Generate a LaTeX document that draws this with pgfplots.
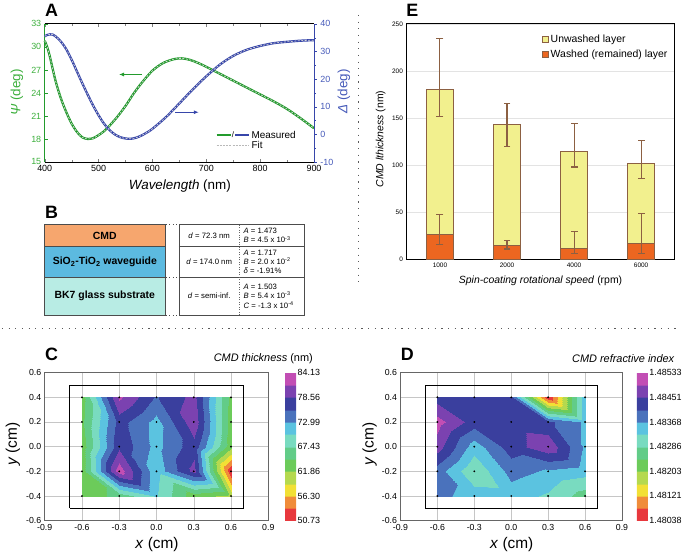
\documentclass[border=0pt]{standalone}
\usepackage{pgfplots}
\pgfplotsset{compat=1.18}
\usepackage{pgfplotstable}
\usepackage{fontspec}
\setmainfont{Liberation Sans}
\usetikzlibrary{arrows.meta}
\definecolor{psig}{RGB}{35,155,45}
\definecolor{psil}{RGB}{60,175,60}
\definecolor{delb}{RGB}{55,70,170}
\definecolor{dell}{RGB}{70,90,185}
\definecolor{barY}{RGB}{242,240,142}
\definecolor{barO}{RGB}{236,102,32}
\definecolor{barE}{RGB}{140,96,66}
\definecolor{cmdO}{RGB}{246,166,110}
\definecolor{sioB}{RGB}{92,186,224}
\definecolor{bkC}{RGB}{184,236,228}
\definecolor{fitc}{RGB}{215,215,215}
\pgfplotsset{colormap={cmdmap}{
 rgb255(0pt)=(232,56,61) rgb255(99pt)=(232,56,61)
 rgb255(100pt)=(240,140,58) rgb255(199pt)=(240,140,58)
 rgb255(200pt)=(242,224,53) rgb255(299pt)=(242,224,53)
 rgb255(300pt)=(181,217,79) rgb255(399pt)=(181,217,79)
 rgb255(400pt)=(108,203,90) rgb255(499pt)=(108,203,90)
 rgb255(500pt)=(98,204,136) rgb255(599pt)=(98,204,136)
 rgb255(600pt)=(121,219,192) rgb255(699pt)=(121,219,192)
 rgb255(700pt)=(91,195,224) rgb255(799pt)=(91,195,224)
 rgb255(800pt)=(74,114,188) rgb255(899pt)=(74,114,188)
 rgb255(900pt)=(58,63,158) rgb255(999pt)=(58,63,158)
 rgb255(1000pt)=(123,66,176) rgb255(1099pt)=(123,66,176)
 rgb255(1100pt)=(194,78,180) rgb255(1200pt)=(194,78,180)}}

\pgfplotstableread[row sep=\\]{
x y z\\
-0.6 -0.4 63\\ -0.3 -0.4 65.5\\ 0 -0.4 70.5\\ 0.3 -0.4 63\\ 0.6 -0.4 61\\
-0.6 -0.2 63\\ -0.3 -0.2 83\\ 0 -0.2 71\\ 0.3 -0.2 79.5\\ 0.6 -0.2 51\\
-0.6 0 63\\ -0.3 0 78\\ 0 0 72\\ 0.3 0 77.5\\ 0.6 0 62.5\\
-0.6 0.2 64\\ -0.3 0.2 77\\ 0 0.2 72\\ 0.3 0.2 80.5\\ 0.6 0.2 63\\
-0.6 0.4 63.5\\ -0.3 0.4 82\\ 0 0.4 75.5\\ 0.3 0.4 79.5\\ 0.6 0.4 63.5\\
}\thickdata

\pgfplotstableread[row sep=\\]{
x y z\\
-0.6 -0.4 1.48380\\ -0.3 -0.4 1.48350\\ 0 -0.4 1.48345\\ 0.3 -0.4 1.48320\\ 0.6 -0.4 1.48265\\
-0.6 -0.2 1.48390\\ -0.3 -0.2 1.48290\\ 0 -0.2 1.48385\\ 0.3 -0.2 1.48362\\ 0.6 -0.2 1.48345\\
-0.6 0 1.48470\\ -0.3 0 1.48345\\ 0 0 1.48430\\ 0.3 0 1.48480\\ 0.6 0 1.48360\\
-0.6 0.2 1.48510\\ -0.3 0.2 1.48430\\ 0 0.2 1.48430\\ 0.3 0.2 1.48420\\ 0.6 0.2 1.48360\\
-0.6 0.4 1.48430\\ -0.3 0.4 1.48430\\ 0 0.4 1.48420\\ 0.3 0.4 1.48040\\ 0.6 0.4 1.48355\\
}\rindata

\begin{document}
\begin{tikzpicture}
\path (0,0) rectangle (685pt,557pt);

% ---------------- Panel A ----------------
\begin{axis}[at={(45pt,394pt)}, anchor=south west, scale only axis,
  width=271pt, height=139pt,
  xmin=400, xmax=900, ymin=15, ymax=33,
  axis x line*=box, axis y line*=left,
  xtick={400,500,600,700,800,900}, minor x tick num=1,
  ytick={15,18,21,24,27,30,33},
  tick align=inside, major tick length=3pt, minor tick length=2pt,
  ticklabel style={font=\fontsize{9}{10}\selectfont},
  /pgf/number format/assume math mode=true,
  x axis line style={line width=0.8pt},
  y axis line style={psig, line width=0.8pt},
  ytick style={psig}, yticklabel style={text=psil},
  clip=false]
\addplot[psig, line width=2.3pt, smooth] coordinates {
(400,30.8) (405,29.9) (410,28.6) (420,25.6) (430,23.3) (440,21.5) (450,20.0) (460,18.9) (470,18.2) (480,18.0) (490,18.1) (500,18.5) (510,19.0) (520,19.7) (535,20.9) (550,22.3) (565,23.9) (580,25.3) (600,26.9) (620,27.9) (640,28.4) (655,28.5) (670,28.3) (685,27.9) (700,27.4) (725,26.5) (750,25.6) (775,24.7) (800,23.8) (825,22.9) (850,21.9) (875,20.7) (900,19.4)};
\addplot[fitc, line width=0.7pt, dash pattern=on 2pt off 1.5pt, smooth] coordinates {
(400,30.8) (405,29.9) (410,28.6) (420,25.6) (430,23.3) (440,21.5) (450,20.0) (460,18.9) (470,18.2) (480,18.0) (490,18.1) (500,18.5) (510,19.0) (520,19.7) (535,20.9) (550,22.3) (565,23.9) (580,25.3) (600,26.9) (620,27.9) (640,28.4) (655,28.5) (670,28.3) (685,27.9) (700,27.4) (725,26.5) (750,25.6) (775,24.7) (800,23.8) (825,22.9) (850,21.9) (875,20.7) (900,19.4)};
\draw[-{Latex[length=5pt,width=4pt]}, psig, line width=0.8pt] (axis cs:581,26.4) -- (axis cs:538,26.4);
\end{axis}
\begin{axis}[at={(45pt,394pt)}, anchor=south west, scale only axis,
  width=271pt, height=139pt,
  xmin=400, xmax=900, ymin=-10, ymax=40,
  axis x line=none, axis y line*=right,
  ytick={-10,0,10,20,30,40}, minor y tick num=1,
  tick align=outside, major tick length=3pt, minor tick length=2pt,
  ticklabel style={font=\fontsize{9}{10}\selectfont},
  /pgf/number format/assume math mode=true,
  y axis line style={delb, line width=0.8pt},
  ytick style={delb}, yticklabel style={text=dell},
  clip=false]
\addplot[delb, line width=2.3pt, smooth] coordinates {
(400,35.5) (405,36.0) (410,36.2) (415,36.1) (420,35.5) (430,33.6) (440,30.8) (450,27.0) (460,22.7) (470,18.4) (480,14.3) (490,10.4) (500,6.9) (510,3.9) (520,1.6) (530,0.0) (540,-1.0) (550,-1.5) (560,-1.6) (570,-1.2) (580,-0.4) (590,0.7) (600,2.0) (625,6.2) (650,11.2) (675,16.3) (700,21.0) (725,25.2) (750,28.4) (775,30.6) (800,32.0) (825,33.0) (850,33.5) (875,33.9) (900,34.1)};
\addplot[fitc, line width=0.7pt, dash pattern=on 2pt off 1.5pt, smooth] coordinates {
(400,35.5) (405,36.0) (410,36.2) (415,36.1) (420,35.5) (430,33.6) (440,30.8) (450,27.0) (460,22.7) (470,18.4) (480,14.3) (490,10.4) (500,6.9) (510,3.9) (520,1.6) (530,0.0) (540,-1.0) (550,-1.5) (560,-1.6) (570,-1.2) (580,-0.4) (590,0.7) (600,2.0) (625,6.2) (650,11.2) (675,16.3) (700,21.0) (725,25.2) (750,28.4) (775,30.6) (800,32.0) (825,33.0) (850,33.5) (875,33.9) (900,34.1)};
\draw[-{Latex[length=5pt,width=4pt]}, delb, line width=0.8pt] (axis cs:642,8) -- (axis cs:686,8);
\end{axis}
\node[font=\fontsize{18}{20}\selectfont\bfseries] at (52pt,547pt) {A};
\node[rotate=90, text=psil, font=\fontsize{13.5}{15}\selectfont] at (17pt,464pt) {\textit{Ψ} (deg)};
\node[rotate=90, text=dell, font=\fontsize{13.5}{15}\selectfont] at (346pt,465pt) {\textit{Δ} (deg)};
\node[font=\fontsize{13.5}{15}\selectfont] at (181pt,370pt) {\textit{Wavelength} (nm)};
% legend A
\draw[psig, line width=2.3pt] (218pt,421pt) -- (232pt,421pt);
\node[font=\fontsize{8}{9}\selectfont, inner sep=0pt] at (234.5pt,421pt) {/};
\draw[delb, line width=2.3pt] (237pt,421pt) -- (251pt,421pt);
\node[anchor=west, font=\fontsize{10}{11}\selectfont, inner sep=1pt] at (252pt,421pt) {Measured};
\draw[gray!55, line width=0.9pt, dash pattern=on 2pt off 1.2pt] (218pt,411pt) -- (251pt,411pt);
\node[anchor=west, font=\fontsize{10}{11}\selectfont, inner sep=1pt] at (252pt,411pt) {Fit};

% ---------------- Panel B ----------------
\node[font=\fontsize{18}{20}\selectfont\bfseries] at (52pt,343pt) {B};
\fill[cmdO] (45pt,309pt) rectangle (166pt,331pt);
\fill[sioB] (45pt,278pt) rectangle (166pt,309pt);
\fill[bkC] (45pt,240pt) rectangle (166pt,278pt);
\draw[black!70, line width=0.6pt] (45pt,240pt) rectangle (166pt,331pt);
\draw[black!70, line width=0.6pt] (45pt,309pt) -- (166pt,309pt) (45pt,278pt) -- (166pt,278pt);
\draw[black!70, line width=0.6pt] (180pt,240pt) rectangle (306pt,331pt);
\draw[black!70, line width=0.6pt] (180pt,309pt) -- (306pt,309pt) (180pt,278pt) -- (306pt,278pt);
\draw[black!60, line width=0.5pt, dash pattern=on 1pt off 1.5pt] (241pt,240pt) -- (241pt,331pt);
\draw[black!70, line width=0.8pt, dash pattern=on 1pt off 2.5pt] (167pt,331pt) -- (180pt,331pt) (167pt,278pt) -- (180pt,278pt) (167pt,240pt) -- (180pt,240pt);
\node[font=\fontsize{10.5}{12}\selectfont\bfseries] at (105.5pt,320pt) {CMD};
\node[font=\fontsize{10.5}{12}\selectfont\bfseries] at (105.5pt,293.5pt) {SiO\textsubscript{2}-TiO\textsubscript{2} waveguide};
\node[font=\fontsize{10.5}{12}\selectfont\bfseries] at (105.5pt,259pt) {BK7 glass substrate};
\node[font=\fontsize{7.8}{9}\selectfont] at (210.5pt,320pt) {\textit{d} = 72.3 nm};
\node[font=\fontsize{7.8}{9}\selectfont] at (210.5pt,293.5pt) {\textit{d} = 174.0 nm};
\node[font=\fontsize{7.8}{9}\selectfont] at (210.5pt,259pt) {\textit{d} = semi-inf.};
\node[anchor=west, align=left, font=\fontsize{7.8}{9.5}\selectfont, inner sep=0pt] at (245pt,320pt) {\textit{A} = 1.473\\\textit{B} = 4.5 x 10\textsuperscript{-3}};
\node[anchor=west, align=left, font=\fontsize{7.8}{9.5}\selectfont, inner sep=0pt] at (245pt,293.5pt) {\textit{A} = 1.717\\\textit{B} = 2.0 x 10\textsuperscript{-2}\\\textit{δ} = -1.91\%};
\node[anchor=west, align=left, font=\fontsize{7.8}{9.5}\selectfont, inner sep=0pt] at (245pt,259pt) {\textit{A} = 1.503\\\textit{B} = 5.4 x 10\textsuperscript{-3}\\\textit{C} = -1.3 x 10\textsuperscript{-4}};

% separators
\draw[black!65, line width=1pt, dash pattern=on 1.2pt off 5.5pt] (2pt,226pt) -- (685pt,226pt);
\draw[black!65, line width=1pt, dash pattern=on 1.2pt off 5.5pt] (361pt,542pt) -- (361pt,268pt);

% ---------------- Panel E ----------------
\begin{axis}[at={(409pt,296pt)}, anchor=south west, scale only axis,
  width=270pt, height=237pt,
  xmin=-0.5, xmax=3.5, ymin=0, ymax=250,
  xtick={0,1,2,3}, xticklabels={1000,2000,4000,6000},
  ytick={0,50,100,150,200,250},
  ymajorgrids, grid style={gray!22, line width=0.6pt},
  major tick length=0pt, axis line style={line width=0.8pt},
  ticklabel style={font=\fontsize{6.5}{8}\selectfont},
  /pgf/number format/assume math mode=true,
  legend cell align=left,
  legend style={at={(0.985,0.965)}, anchor=north east, draw=none, fill=none,
    font=\fontsize{10.5}{12}\selectfont, row sep=1.5pt, inner sep=1pt},
  legend image code/.code={\draw[#1, line width=0.8pt] (0pt,-3pt) rectangle (6pt,3pt);},
  errb/.style={barE, line width=1.1pt, mark=-, mark size=3.5pt, mark options={solid, barE, line width=1.1pt}, forget plot}]
\addplot[ybar, bar width=27pt, bar shift=0pt, fill=barY, draw=barE, line width=1pt]
  coordinates {(0,180) (1,143) (2,114) (3,102)};
\addlegendentry{Unwashed layer}
\addplot[errb] coordinates {(0,152) (0,234)};
\addplot[errb] coordinates {(1,120) (1,165)};
\addplot[errb] coordinates {(2,98) (2,144)};
\addplot[errb] coordinates {(3,86) (3,126)};
\addplot[ybar, bar width=27pt, bar shift=0pt, fill=barO, draw=barE, line width=1pt]
  coordinates {(0,26) (1,15) (2,12) (3,17)};
\addlegendentry{Washed (remained) layer}
\addplot[errb] coordinates {(0,16) (0,48)};
\addplot[errb] coordinates {(1,11) (1,20)};
\addplot[errb] coordinates {(2,6) (2,30)};
\addplot[errb] coordinates {(3,6) (3,49)};
\end{axis}
\node[font=\fontsize{18}{20}\selectfont\bfseries] at (415pt,547pt) {E};
\node[rotate=90, font=\fontsize{10.5}{12}\selectfont] at (383pt,417pt) {\textit{CMD lthickness} (nm)};
\node[font=\fontsize{10.5}{12}\selectfont] at (544pt,274pt) {\textit{Spin-coating rotational speed} (rpm)};

% ---------------- Panel C ----------------
\begin{axis}[at={(45pt,33pt)}, anchor=south west, scale only axis,
  width=225pt, height=149pt,
  xmin=-0.9, xmax=0.9, ymin=-0.6, ymax=0.6,
  xtick={-0.9,-0.6,-0.3,0,0.3,0.6,0.9}, xticklabels={-0.9,-0.6,-0.3,0.0,0.3,0.6,0.9},
  ytick={-0.6,-0.4,-0.2,0,0.2,0.4,0.6}, yticklabels={-0.6,-0.4,-0.2,0.0,0.2,0.4,0.6},
  grid=major, grid style={gray!45, line width=0.5pt}, major tick length=0pt,
  axis line style={black!60, line width=0.6pt},
  ticklabel style={font=\fontsize{8.8}{10}\selectfont},
  colormap name=cmdmap,
  point meta min=50.73, point meta max=84.13,
  colorbar, colorbar style={scale only axis, width=11pt, xshift=-1pt,
    ytick={50.73,56.30,61.86,67.43,72.99,78.56,84.13},
    yticklabels={50.73,56.30,61.86,67.43,72.99,78.56,84.13},
    major tick length=0pt, axis line style={draw=none},
    yticklabel style={font=\fontsize{9}{10}\selectfont, xshift=-2pt}}]
\addplot[surf, shader=interp, mesh/cols=5, mesh/rows=5, point meta=\thisrow{z}] table[x=x, y=y] {\thickdata};
\addplot[only marks, mark=*, mark size=0.7pt, black] table[x=x, y=y] {\thickdata};
\addplot[black, line width=0.9pt, no markers] coordinates {(-0.7,-0.5) (0.7,-0.5) (0.7,0.5) (-0.7,0.5) (-0.7,-0.5)};
\end{axis}
\node[font=\fontsize{18}{20}\selectfont\bfseries] at (52pt,200pt) {C};
\node[anchor=east, font=\fontsize{11}{12}\selectfont, inner sep=0pt] at (315pt,196pt) {\textit{CMD thickness} (nm)};
\node[rotate=90, font=\fontsize{15.5}{17}\selectfont] at (13pt,110pt) {\textit{y} (cm)};
\node[font=\fontsize{15.5}{17}\selectfont] at (158pt,9pt) {\textit{x} (cm)};

% ---------------- Panel D ----------------
\begin{axis}[at={(403pt,33pt)}, anchor=south west, scale only axis,
  width=223pt, height=149pt,
  xmin=-0.9, xmax=0.9, ymin=-0.6, ymax=0.6,
  xtick={-0.9,-0.6,-0.3,0,0.3,0.6,0.9}, xticklabels={-0.9,-0.6,-0.3,0.0,0.3,0.6,0.9},
  ytick={-0.6,-0.4,-0.2,0,0.2,0.4,0.6}, yticklabels={-0.6,-0.4,-0.2,0.0,0.2,0.4,0.6},
  grid=major, grid style={gray!45, line width=0.5pt}, major tick length=0pt,
  axis line style={black!60, line width=0.6pt},
  ticklabel style={font=\fontsize{8.8}{10}\selectfont},
  colormap name=cmdmap,
  point meta min=1.48038, point meta max=1.48533,
  colorbar, colorbar style={scale only axis, width=11pt, xshift=-3pt,
    ytick={1.48038,1.48121,1.48203,1.48286,1.48368,1.48451,1.48533},
    yticklabels={1.48038,1.48121,1.48203,1.48286,1.48368,1.48451,1.48533},
    major tick length=0pt, axis line style={draw=none},
    yticklabel style={font=\fontsize{9}{10}\selectfont, xshift=-2pt}}]
\addplot[surf, shader=interp, mesh/cols=5, mesh/rows=5, point meta=\thisrow{z}] table[x=x, y=y] {\rindata};
\addplot[only marks, mark=*, mark size=0.7pt, black] table[x=x, y=y] {\rindata};
\addplot[black, line width=0.9pt, no markers] coordinates {(-0.7,-0.5) (0.7,-0.5) (0.7,0.5) (-0.7,0.5) (-0.7,-0.5)};
\end{axis}
\node[font=\fontsize{18}{20}\selectfont\bfseries] at (410pt,200pt) {D};
\node[anchor=east, font=\fontsize{11}{12}\selectfont, inner sep=0pt] at (679pt,196pt) {\textit{CMD refractive index}};
\node[rotate=90, font=\fontsize{15.5}{17}\selectfont] at (372pt,110pt) {\textit{y} (cm)};
\node[font=\fontsize{15.5}{17}\selectfont] at (515pt,9pt) {\textit{x} (cm)};
\end{tikzpicture}
\end{document}
